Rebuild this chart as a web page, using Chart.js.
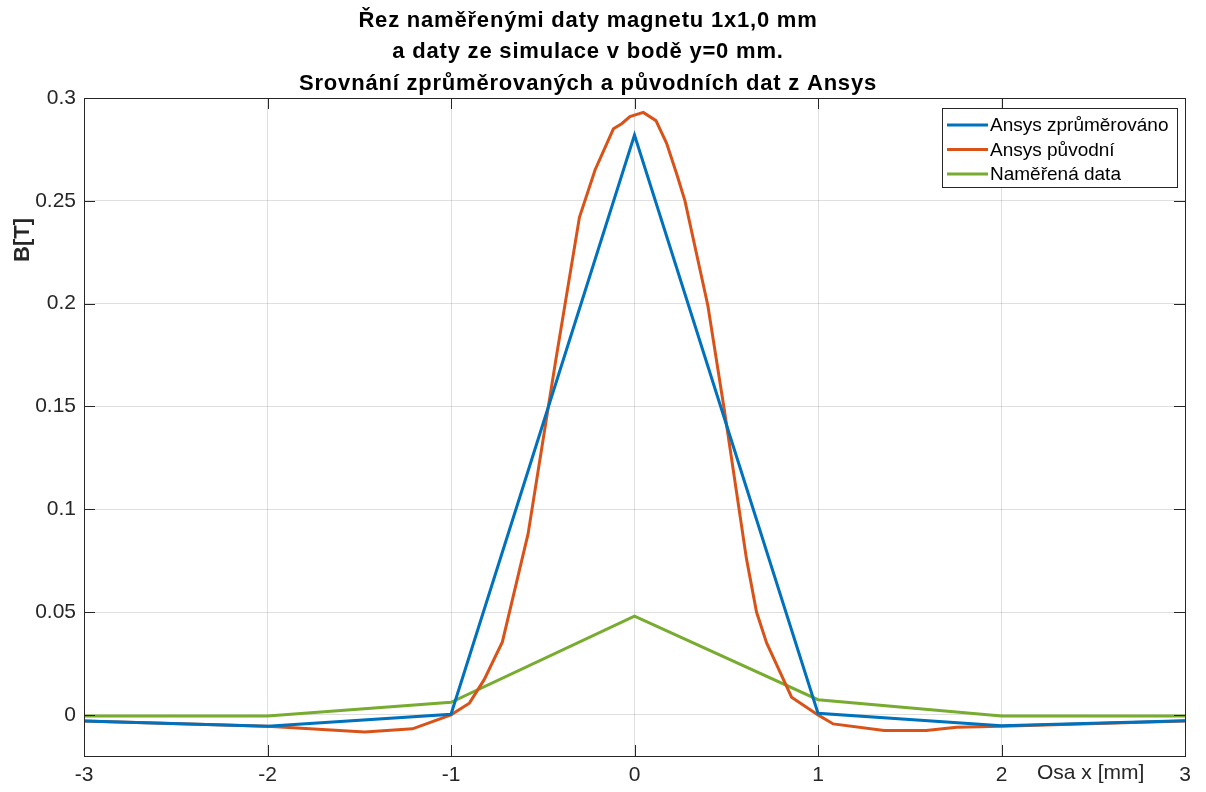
<!DOCTYPE html>
<html>
<head>
<meta charset="utf-8">
<script src="https://cdn.jsdelivr.net/npm/chart.js@4.4.1/dist/chart.umd.min.js"></script>
<style>
html,body{margin:0;padding:0;background:#fff;}
#wrap{width:1206px;height:792px;position:relative;}
</style>
</head>
<body>
<div id="wrap"><canvas id="c" width="1206" height="792"></canvas></div>
<script>
const titleLines = ["Řez naměřenými daty magnetu 1x1,0 mm", "a daty ze simulace v bodě y=0 mm.", "Srovnání zprůměrovaných a původních dat z Ansys"];
const xAxisTitle = "Osa x [mm]";
const yAxisTitle = "B[T]";
const xTicks = [-3, -2, -1, 0, 1, 2, 3];
const yTicks = [0, 0.05, 0.1, 0.15, 0.2, 0.25, 0.3];
const yTickLabels = ["0", "0.05", "0.1", "0.15", "0.2", "0.25", "0.3"];

const seriesNames = ["Ansys zprůměrováno", "Ansys původní", "Naměřená data"];

const avgX = [-3, -2, -1, 0, 1, 2, 3];
const avgY = [-0.003, -0.0055, 0.0003, 0.282, 0.0008, -0.0053, -0.0028];

const origX = [-3, -2, -1.47, -1.21, -1.0, -0.9, -0.82, -0.72, -0.58, -0.43, -0.3, -0.215, -0.115, -0.07, -0.025, 0.048, 0.117, 0.175, 0.23, 0.275, 0.40, 0.49, 0.61, 0.665, 0.72, 0.856, 1.0, 1.083, 1.36, 1.59, 1.755, 2, 3];
const origY = [-0.003, -0.0055, -0.0083, -0.0068, 0.0, 0.0057, 0.017, 0.0355, 0.088, 0.172, 0.242, 0.265, 0.285, 0.2875, 0.291, 0.293, 0.289, 0.278, 0.263, 0.25, 0.199, 0.148, 0.076, 0.05, 0.035, 0.0086, 0.0, -0.0044, -0.0076, -0.0076, -0.006, -0.0055, -0.003];

const measX = [-3, -2, -1, 0, 1, 2, 3];
const measY = [-0.0006, -0.0006, 0.0061, 0.048, 0.0074, -0.0006, -0.0006];

const colors = ["#0072BD", "#D95319", "#77AC30"];
const FONT = "'Liberation Sans', Arial, Helvetica, sans-serif";
const AXC = "#262626";

function pts(xs, ys){ return xs.map((x,i)=>({x:x, y:ys[i]})); }

const decor = {
  id: 'decor',
  afterDraw(chart){
    const ctx = chart.ctx, a = chart.chartArea;
    const xs = chart.scales.x, ys = chart.scales.y;
    ctx.save();
    ctx.strokeStyle = AXC; ctx.lineWidth = 1;
    ctx.strokeRect(Math.round(a.left)+0.5, Math.round(a.top)+0.5, Math.round(a.right-a.left), Math.round(a.bottom-a.top));
    const tl = 11;
    ctx.beginPath();
    xTicks.forEach(v=>{
      const px = Math.round(xs.getPixelForValue(v))+0.5;
      ctx.moveTo(px, a.bottom); ctx.lineTo(px, a.bottom-tl);
      ctx.moveTo(px, a.top); ctx.lineTo(px, a.top+tl);
    });
    yTicks.forEach(v=>{
      const py = Math.round(ys.getPixelForValue(v))+0.5;
      ctx.moveTo(a.left, py); ctx.lineTo(a.left+tl, py);
      ctx.moveTo(a.right, py); ctx.lineTo(a.right-tl, py);
    });
    ctx.stroke();
    // title
    ctx.fillStyle = "#000";
    ctx.font = "bold 22px " + FONT;
    ctx.letterSpacing = "0.8px";
    ctx.textAlign = "center"; ctx.textBaseline = "middle";
    const cx = 588;
    const ty = [21, 52, 84];
    titleLines.forEach((t,i)=>ctx.fillText(t, cx, ty[i]));
    ctx.letterSpacing = "0px";
    // axis titles
    ctx.fillStyle = AXC;
    ctx.font = "21px " + FONT;
    ctx.textAlign = "left";
    ctx.fillText(xAxisTitle, 1037, 773);
    ctx.save();
    ctx.translate(23, 240);
    ctx.rotate(-Math.PI/2);
    ctx.font = "bold 22px " + FONT;
    ctx.textAlign = "center";
    ctx.fillText(yAxisTitle, 0, 0);
    ctx.restore();
    // legend
    const lx = 942, ly = 108, lw = 235, lh = 79;
    ctx.fillStyle = "#fff";
    ctx.fillRect(lx, ly, lw, lh);
    ctx.strokeStyle = AXC; ctx.lineWidth = 1;
    ctx.strokeRect(lx+0.5, ly+0.5, lw, lh);
    ctx.font = "19px " + FONT;
    ctx.textAlign = "left"; ctx.textBaseline = "middle";
    chart.data.datasets.forEach((ds, i)=>{
      const yy = ly + 17 + i*24.5;
      ctx.strokeStyle = ds.borderColor; ctx.lineWidth = 3;
      ctx.beginPath(); ctx.moveTo(lx+5, yy); ctx.lineTo(lx+46, yy); ctx.stroke();
      ctx.fillStyle = "#000";
      ctx.fillText(ds.label, lx+48, yy+1);
    });
    ctx.restore();
  }
};

new Chart(document.getElementById('c'), {
  type: 'scatter',
  data: {
    datasets: [
      {label: seriesNames[0], data: pts(avgX, avgY), borderColor: colors[0], backgroundColor: colors[0], showLine: true, borderWidth: 3, pointRadius: 0, tension: 0},
      {label: seriesNames[1], data: pts(origX, origY), borderColor: colors[1], backgroundColor: colors[1], showLine: true, borderWidth: 3, pointRadius: 0, tension: 0},
      {label: seriesNames[2], data: pts(measX, measY), borderColor: colors[2], backgroundColor: colors[2], showLine: true, borderWidth: 3, pointRadius: 0, tension: 0}
    ]
  },
  options: {
    responsive: false,
    animation: false,
    layout: {padding: {top: 98, right: 21, left: 0, bottom: 0}},
    plugins: {legend: {display: false}, title: {display: false}, tooltip: {enabled: false}},
    scales: {
      x: {
        type: 'linear', min: -3, max: 3,
        afterFit(s){ s.height = 36; },
        afterBuildTicks(s){ s.ticks = xTicks.map(v=>({value:v})); },
        ticks: {color: AXC, font: {family: FONT, size: 21}, padding: 7, maxRotation: 0, callback: v => String(v)},
        grid: {color: 'rgba(38,38,38,0.15)', drawTicks: false, lineWidth: 1},
        border: {display: false}
      },
      y: {
        type: 'linear', min: -0.02, max: 0.3,
        afterFit(s){ s.width = 84; },
        afterBuildTicks(s){ s.ticks = yTicks.map(v=>({value:v})); },
        ticks: {color: AXC, font: {family: FONT, size: 21}, padding: 8, callback: (v)=>{ const i = yTicks.findIndex(t=>Math.abs(t-v)<1e-9); return i>=0 ? yTickLabels[i] : ''; }},
        grid: {color: 'rgba(38,38,38,0.15)', drawTicks: false, lineWidth: 1},
        border: {display: false}
      }
    }
  },
  plugins: [decor]
});
</script>
</body>
</html>
